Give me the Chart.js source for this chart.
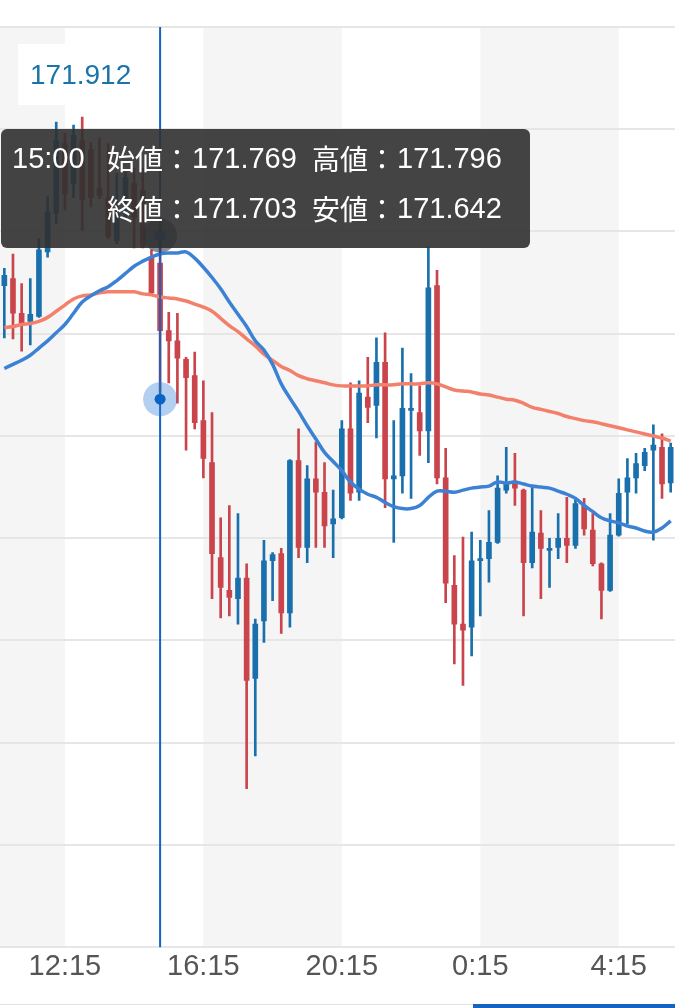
<!DOCTYPE html>
<html lang="ja">
<head>
<meta charset="utf-8">
<title>USD/JPY 15分足</title>
<script src="https://cdn.jsdelivr.net/npm/chart.js@4.4.1/dist/chart.umd.min.js"></script>
<style>
  html, body { margin: 0; padding: 0; background: #fff; }
  #wrap { position: relative; width: 675px; height: 1008px; overflow: hidden; }
  #chart { display: block; }
  #tab-line { position: absolute; left: 0; top: 1004px; width: 675px; height: 1px; background: #e3e3e3; }
  #tab-active { position: absolute; left: 473px; top: 1004px; width: 202px; height: 4px; background: #1565c0; }
</style>
</head>
<body>
<div id="wrap">
  <canvas id="chart" width="675" height="1000"></canvas>
  <div id="tab-line"></div>
  <div id="tab-active"></div>
</div>
<script>
// 15-minute candles, 10:30 -> 5:45
const times = [
  '10:30','10:45','11:00','11:15','11:30','11:45','12:00','12:15','12:30','12:45',
  '13:00','13:15','13:30','13:45','14:00','14:15','14:30','14:45','15:00','15:15',
  '15:30','15:45','16:00','16:15','16:30','16:45','17:00','17:15','17:30','17:45',
  '18:00','18:15','18:30','18:45','19:00','19:15','19:30','19:45','20:00','20:15',
  '20:30','20:45','21:00','21:15','21:30','21:45','22:00','22:15','22:30','22:45',
  '23:00','23:15','23:30','23:45','0:00','0:15','0:30','0:45','1:00','1:15',
  '1:30','1:45','2:00','2:15','2:30','2:45','3:00','3:15','3:30','3:45',
  '4:00','4:15','4:30','4:45','5:00','5:15','5:30','5:45'
];
const tickLabels = ['12:15', '16:15', '20:15', '0:15', '4:15'];

const opens = [
  171.747,171.754,171.720,171.712,171.717,171.780,171.818,171.886,171.847,171.889,
  171.880,171.842,171.833,171.791,171.833,171.847,171.840,171.775,171.769,171.703,
  171.693,171.675,171.659,171.615,171.574,171.481,171.449,171.441,171.461,171.363,
  171.419,171.478,171.485,171.427,171.576,171.491,171.558,171.545,171.514,171.520,
  171.607,171.545,171.638,171.630,171.672,171.558,171.561,171.625,171.623,171.605,
  171.747,171.559,171.454,171.416,171.413,171.478,171.480,171.496,171.547,171.556,
  171.547,171.476,171.505,171.488,171.491,171.500,171.493,171.532,171.508,171.475,
  171.449,171.503,171.545,171.559,171.571,171.586,171.589,171.554
];
const highs = [
  171.764,171.778,171.749,171.754,171.793,171.834,171.907,171.896,171.904,171.912,
  171.887,171.891,171.886,171.857,171.858,171.862,171.862,171.782,171.796,171.721,
  171.720,171.677,171.682,171.654,171.623,171.520,171.532,171.524,171.475,171.421,
  171.498,171.486,171.490,171.577,171.607,171.571,171.594,171.574,171.547,171.615,
  171.652,171.654,171.677,171.696,171.701,171.615,171.686,171.661,171.649,171.785,
  171.762,171.588,171.483,171.501,171.506,171.498,171.527,171.561,171.589,171.583,
  171.548,171.550,171.527,171.500,171.524,171.540,171.540,171.539,171.524,171.476,
  171.524,171.558,171.578,171.583,171.588,171.611,171.602,171.593
];
const lows = [
  171.696,171.695,171.683,171.689,171.716,171.775,171.808,171.821,171.833,171.801,
  171.824,171.832,171.793,171.788,171.811,171.784,171.784,171.738,171.642,171.652,
  171.632,171.586,171.607,171.559,171.441,171.422,171.424,171.416,171.255,171.287,
  171.398,171.439,171.407,171.413,171.481,171.476,171.491,171.491,171.481,171.519,
  171.537,171.537,171.613,171.598,171.530,171.496,171.544,171.539,171.581,171.574,
  171.553,171.437,171.377,171.356,171.385,171.424,171.457,171.495,171.544,171.532,
  171.424,171.471,171.441,171.452,171.480,171.476,171.490,171.503,171.473,171.421,
  171.448,171.502,171.514,171.544,171.566,171.498,171.539,171.545
];
const closes = [
  171.757,171.720,171.710,171.719,171.782,171.819,171.889,171.837,171.894,171.831,
  171.833,171.835,171.795,171.818,171.853,171.814,171.785,171.740,171.703,171.693,
  171.676,171.657,171.613,171.578,171.485,171.452,171.442,171.461,171.361,171.416,
  171.478,171.484,171.427,171.576,171.491,171.558,171.545,171.512,171.519,171.607,
  171.544,171.642,171.628,171.672,171.558,171.561,171.627,171.627,171.605,171.745,
  171.559,171.456,171.416,171.410,171.478,171.480,171.496,171.549,171.554,171.549,
  171.476,171.506,171.490,171.490,171.500,171.493,171.534,171.509,171.475,171.449,
  171.503,171.544,171.559,171.573,171.584,171.591,171.553,171.589
];
// moving averages as shown on the chart
const maShort = [
  171.666,171.670,171.674,171.679,171.686,171.693,171.701,171.709,171.720,171.731,
  171.737,171.742,171.746,171.752,171.759,171.766,171.771,171.775,171.778,171.779,
  171.779,171.780,171.774,171.765,171.755,171.744,171.731,171.719,171.707,171.693,
  171.684,171.670,171.651,171.637,171.624,171.610,171.597,171.584,171.575,171.566,
  171.555,171.548,171.543,171.540,171.535,171.531,171.529,171.529,171.532,171.540,
  171.546,171.546,171.545,171.547,171.549,171.550,171.551,171.555,171.554,171.555,
  171.553,171.551,171.550,171.549,171.546,171.543,171.539,171.532,171.526,171.520,
  171.517,171.515,171.512,171.510,171.507,171.506,171.510,171.517
];
const maLong = [
  171.706,171.707,171.709,171.710,171.712,171.716,171.722,171.728,171.734,171.737,
  171.738,171.740,171.741,171.741,171.741,171.741,171.739,171.738,171.736,171.735,
  171.734,171.732,171.729,171.726,171.722,171.715,171.708,171.702,171.695,171.688,
  171.680,171.674,171.668,171.664,171.659,171.656,171.654,171.652,171.650,171.649,
  171.649,171.649,171.649,171.650,171.650,171.650,171.651,171.651,171.651,171.652,
  171.651,171.648,171.645,171.644,171.643,171.641,171.640,171.638,171.636,171.635,
  171.632,171.628,171.626,171.624,171.622,171.619,171.617,171.615,171.614,171.612,
  171.610,171.608,171.606,171.604,171.602,171.600,171.598,171.595
];
const priceMin = 171.1;
const priceMax = 172.0;
const crossTime = '15:00';
const touchPrice = 171.636;

const UP = '#1a70ad';
const DOWN = '#c9454b';
const candleColor = (c) => closes[c.dataIndex] >= opens[c.dataIndex] ? UP : DOWN;

const wicks = lows.map((l, i) => [l, highs[i]]);
const bodies = opens.map((o, i) => [o, closes[i]]);

const FONT = '"Liberation Sans", Arial, sans-serif';
const JP_FONT = '"Noto Sans CJK JP", "Noto Sans", sans-serif';

const decorations = {
  id: 'decorations',
  beforeDraw(chart) {
    const { ctx, chartArea: a, scales: { x } } = chart;
    ctx.save();
    ctx.fillStyle = '#fff';
    ctx.fillRect(0, 0, chart.width, chart.height);
    // 4-hour alternating background bands
    const edges = [a.left].concat(tickLabels.map(t => x.getPixelForValue(times.indexOf(t))), [a.right]);
    ctx.fillStyle = '#f5f5f5';
    for (let i = 0; i < edges.length - 1; i += 2) {
      ctx.fillRect(edges[i], a.top, edges[i + 1] - edges[i], a.bottom - a.top);
    }
    ctx.restore();
  },
  afterDraw(chart) {
    const { ctx, chartArea: a, scales: { x, y } } = chart;
    const ci = times.indexOf(crossTime);
    const cx = x.getPixelForValue(ci);
    ctx.save();

    // crosshair
    ctx.strokeStyle = '#1565c0';
    ctx.lineWidth = 2;
    ctx.beginPath();
    ctx.moveTo(cx, a.top);
    ctx.lineTo(cx, a.bottom);
    ctx.stroke();

    // marker on the selected candle
    const hy = y.getPixelForValue(highs[ci]);
    ctx.fillStyle = 'rgba(40, 50, 70, 0.55)';
    ctx.beginPath(); ctx.arc(cx, hy, 17, 0, Math.PI * 2); ctx.fill();
    ctx.fillStyle = '#1565c0';
    ctx.beginPath(); ctx.arc(cx, hy, 5.5, 0, Math.PI * 2); ctx.fill();

    // tooltip
    const bx = a.left + 1, by = a.top + 102, bw = 529, bh = 119;
    ctx.fillStyle = 'rgba(48, 48, 48, 0.9)';
    ctx.beginPath();
    ctx.roundRect(bx, by, bw, bh, 6);
    ctx.fill();
    ctx.fillStyle = '#fff';
    ctx.textBaseline = 'middle';
    ctx.textAlign = 'left';
    const l1 = by + 30, l2 = by + 80;
    const pair = (label, value, px, py) => {
      ctx.font = '28px ' + JP_FONT;
      ctx.fillText(label, px, py);
      const w = ctx.measureText(label).width;
      ctx.font = '29px ' + FONT;
      ctx.fillText(value.toFixed(3), px + w + 1, py + 1);
    };
    ctx.font = '29px ' + FONT;
    ctx.fillText(crossTime, bx + 11, l1 + 1);
    pair('始値：', opens[ci], bx + 106, l1);
    pair('高値：', highs[ci], bx + 311, l1);
    pair('終値：', closes[ci], bx + 106, l2);
    pair('安値：', lows[ci], bx + 311, l2);

    // touch point
    const ty = y.getPixelForValue(touchPrice);
    ctx.fillStyle = 'rgba(40, 120, 215, 0.35)';
    ctx.beginPath(); ctx.arc(cx, ty, 17, 0, Math.PI * 2); ctx.fill();
    ctx.fillStyle = '#0b63c4';
    ctx.beginPath(); ctx.arc(cx, ty, 5.5, 0, Math.PI * 2); ctx.fill();

    // highest price label
    const maxHigh = Math.max(...highs);
    ctx.fillStyle = '#fff';
    ctx.fillRect(a.left + 18, a.top + 17, 114, 61);
    ctx.fillStyle = '#1b74a8';
    ctx.font = '28px ' + FONT;
    ctx.fillText(maxHigh.toFixed(3), a.left + 30, a.top + 49);

    ctx.restore();
  }
};

new Chart(document.getElementById('chart').getContext('2d'), {
  type: 'bar',
  data: {
    labels: times,
    datasets: [
      {
        type: 'line', data: maShort, borderColor: '#3c82d4', borderWidth: 3.5,
        pointRadius: 0, tension: 0.4, order: 0
      },
      {
        type: 'line', data: maLong, borderColor: '#f3806b', borderWidth: 3.5,
        pointRadius: 0, tension: 0.4, order: 1
      },
      {
        data: bodies, backgroundColor: candleColor, barThickness: 5,
        minBarLength: 2, grouped: false, order: 2
      },
      {
        data: wicks, backgroundColor: candleColor, barThickness: 2,
        grouped: false, order: 3
      }
    ]
  },
  options: {
    responsive: false,
    animation: false,
    events: [],
    layout: { padding: { top: 27, left: 0, right: 0, bottom: 14 } },
    plugins: { legend: { display: false }, tooltip: { enabled: false } },
    scales: {
      x: {
        offset: true,
        grid: { display: false, drawTicks: false },
        border: { display: false },
        ticks: {
          autoSkip: false,
          maxRotation: 0,
          padding: 2,
          color: '#555',
          font: { size: 29, family: FONT },
          callback: (v, i) => tickLabels.includes(times[i]) ? times[i] : ''
        }
      },
      y: {
        min: priceMin,
        max: priceMax,
        ticks: { display: false, stepSize: 0.1 },
        grid: { color: '#e6e6e6', lineWidth: 2, drawTicks: false },
        border: { display: false }
      }
    }
  },
  plugins: [decorations]
});
</script>
</body>
</html>
